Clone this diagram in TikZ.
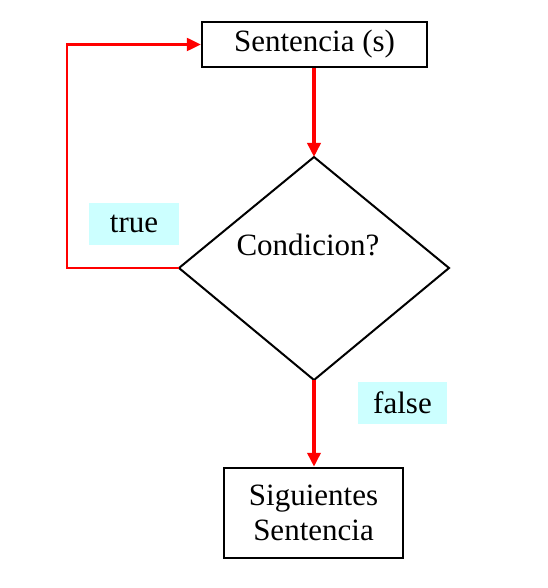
\documentclass[tikz,border=0pt]{standalone}
\usepackage{fontspec}
\setmainfont{Liberation Serif}
\usetikzlibrary{arrows.meta,shapes.geometric}
\definecolor{lcyan}{RGB}{204,255,255}
\begin{document}
\begin{tikzpicture}[x=1pt,y=-1pt,
  box/.style={draw=black,line width=2.5pt,inner sep=0pt,font=\fontsize{31}{35}\selectfont},
  lbl/.style={fill=lcyan,inner sep=0pt,font=\fontsize{31}{35}\selectfont},
  flow/.style={draw=red,line width=3.5pt,-{Triangle[length=14pt,width=13pt]}},
  loop/.style={draw=red,line width=2.5pt,-{Triangle[length=14pt,width=13pt]}}]
\useasboundingbox (0,0) rectangle (547,588);
\node[box,minimum width=225pt,minimum height=45pt] (s) at (314.5,44.5) {Sentencia (s)};
\node[box,minimum width=179pt,minimum height=90pt,align=center] (n) at (313.5,513) {Siguientes\\Sentencia};
\coordinate (t) at (314,157);
\coordinate (l) at (179,268);
\coordinate (r) at (449,268);
\coordinate (b) at (314,380);
\draw[line width=2pt,line join=miter] (t) -- (r) -- (b) -- (l) -- cycle;
\node[font=\fontsize{31}{35}\selectfont] (c) at (308,245) {Condicion?};
\node[lbl,minimum width=90pt,minimum height=42pt] (tr) at (134,224) {true};
\node[lbl,minimum width=89pt,minimum height=42pt] (fa) at (402.5,403) {false};
\coordinate (k1) at (67,268);
\coordinate (k2) at (67,44.5);
\draw[flow] (s.south -| t) -- (t);
\draw[flow] (b) -- (n.north -| b);
\draw[loop] (l) -- (k1) -- (k2) -- (s.west);
\end{tikzpicture}
\end{document}
